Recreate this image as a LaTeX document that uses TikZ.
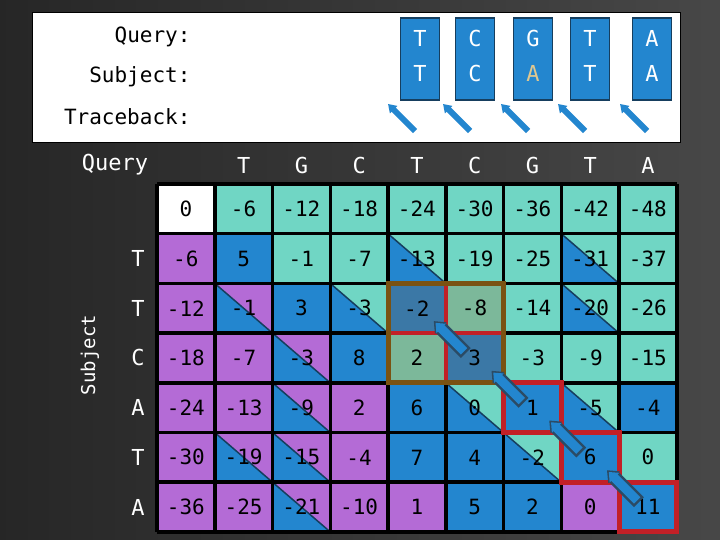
\documentclass[tikz,border=0pt]{standalone}
\usepackage{fontspec}
\setmainfont{DejaVu Sans Mono}
\usetikzlibrary{arrows.meta}
\definecolor{cT}{HTML}{70D6C4}
\definecolor{cP}{HTML}{B46BD6}
\definecolor{cB}{HTML}{2386CF}
\definecolor{cS}{HTML}{3B78A6}
\definecolor{cG}{HTML}{7CB89A}
\definecolor{cW}{HTML}{FFFFFF}
\definecolor{dkb}{HTML}{163E5E}
\definecolor{brn}{HTML}{7A5212}
\definecolor{rd}{HTML}{C22027}
\definecolor{gold}{HTML}{E0C890}
\def\cmpHT{HT}\def\cmpHP{HP}
\tikzset{
 lbl/.style={font=\fontsize{21}{21}\selectfont, text=black},
 hd/.style={font=\fontsize{22}{22}\selectfont, text=white},
 topbox/.style={fill=cB, draw=dkb, line width=1.5pt, minimum width=39pt, minimum height=82pt, inner sep=0pt},
 toplet/.style={font=\fontsize{22}{22}\selectfont, text=white},
 bluearrow/.style={line width=6pt, cB, -{Triangle[length=8pt,width=10pt]}},
 bigarrowout/.style={line width=14pt, draw=dkb!80!gray, -{Triangle[length=10pt,width=16pt]}},
 bigarrowin/.style={line width=9pt, draw=cB, -{Triangle[length=8pt,width=13pt]}},
}
\begin{document}
\begin{tikzpicture}[x=1pt,y=-1pt]
\useasboundingbox (0,0) rectangle (720,540);
\shade[left color=black!85, right color=black!72] (0,0) rectangle (720,540);
% top box
\node[draw=black, fill=white, line width=0.8pt, minimum width=648pt, minimum height=130pt, inner sep=0pt, anchor=north west] (tb) at (32,12) {};
\node[lbl, anchor=east] (q) at (194,37) {Query:};
\node[lbl, anchor=east] (s) at (194,77) {Subject:};
\node[lbl, anchor=east] (tr) at (194,117) {Traceback:};
\foreach \x/\a/\b/\col [count=\i] in {420/T/T/white,475/C/C/white,533/G/A/gold,590/T/T/white,652/A/A/white}{
  \node[topbox] (tbx\i) at (\x,59) {};
  \node[toplet] (ta\i) at (\x,38) {\a};
  \node[toplet, text=\col] (tbb\i) at (\x,73) {\b};
  \coordinate (ah\i) at (\x-32,104);
  \coordinate (at\i) at (\x-5,131);
  \draw[bluearrow] (at\i) -- (ah\i);
}
% headers
\node[hd] (qh) at (115,165) {Query};
\foreach \l [count=\i] in {T,G,C,T,C,G,T,A}{
  \node[hd] (qc\i) at ({157+57.75*\i+28.9},165) {\l};
}
\foreach \l [count=\i] in {T,T,C,A,T,A}{
  \node[hd] (sr\i) at (138,{184+49.7*\i+24.85}) {\l};
}
\node[hd, rotate=90, font=\fontsize{19}{19}\selectfont] (sub) at (90,355) {Subject};
% cells
\def\W{57.75}\def\H{49.7}
\foreach \row [count=\r from 0] in {
 {0/W,-6/T,-12/T,-18/T,-24/T,-30/T,-36/T,-42/T,-48/T},
 {-6/P,5/B,-1/T,-7/T,-13/HT,-19/T,-25/T,-31/HT,-37/T},
 {-12/P,-1/HP,3/B,-3/HT,-2/S,-8/G,-14/T,-20/HT,-26/T},
 {-18/P,-7/P,-3/HP,8/B,2/G,3/S,-3/T,-9/T,-15/T},
 {-24/P,-13/P,-9/HP,2/P,6/B,0/HT,1/B,-5/HT,-4/B},
 {-30/P,-19/HP,-15/HP,-4/P,7/B,4/B,-2/HT,6/B,0/T},
 {-36/P,-25/P,-21/HP,-10/P,1/P,5/B,2/B,0/P,11/B}}{
 \foreach \v/\k [count=\c from 0] in \row {
  \pgfmathsetmacro\xa{157+\W*\c}\pgfmathsetmacro\ya{184+\H*\r}
  \pgfmathsetmacro\xb{\xa+\W}\pgfmathsetmacro\yb{\ya+\H}
  \edef\kk{\k}
  \ifx\kk\cmpHT
    \fill[cT] (\xa,\ya) rectangle (\xb,\yb);
    \filldraw[fill=cB, draw=dkb, line width=1.5pt] (\xa,\ya) -- (\xb,\yb) -- (\xa,\yb) -- cycle;
  \else\ifx\kk\cmpHP
    \fill[cP] (\xa,\ya) rectangle (\xb,\yb);
    \filldraw[fill=cB, draw=dkb, line width=1.5pt] (\xa,\ya) -- (\xb,\yb) -- (\xa,\yb) -- cycle;
  \else
    \fill[c\k] (\xa,\ya) rectangle (\xb,\yb);
  \fi\fi
  \node[lbl] (c-\r-\c) at ({\xa+\W/2},{\ya+\H/2}) {\v};
 }
}
% grid lines
\foreach \c in {0,...,9}{ \draw[line width=3.5pt] ({157+\W*\c},184) -- ({157+\W*\c},{184+7*\H}); }
\foreach \r in {0,...,7}{ \draw[line width=3.5pt] (157,{184+\H*\r}) -- ({157+9*\W},{184+\H*\r}); }
% red cross and brown box
\draw[rd, line width=4pt] ({157+5*\W},{184+2*\H}) -- ({157+5*\W},{184+4*\H});
\draw[rd, line width=4pt] ({157+4*\W},{184+3*\H}) -- ({157+6*\W},{184+3*\H});
\draw[brn, line width=5pt] ({157+4*\W},{184+2*\H}) rectangle ({157+6*\W},{184+4*\H});
% red stair
\draw[rd, line width=5pt, line join=miter]
 ({157+6*\W},{184+4*\H}) -- ({157+7*\W},{184+4*\H}) -- ({157+7*\W},{184+5*\H}) -- ({157+8*\W},{184+5*\H})
 -- ({157+8*\W},{184+6*\H}) -- ({157+9*\W},{184+6*\H}) -- ({157+9*\W},{184+7*\H}) -- ({157+8*\W},{184+7*\H})
 -- ({157+8*\W},{184+6*\H}) -- ({157+7*\W},{184+6*\H}) -- ({157+7*\W},{184+5*\H}) -- ({157+6*\W},{184+5*\H}) -- cycle;
% traceback arrows
\foreach \c/\r [count=\i] in {5/3,6/4,7/5,8/6}{
  \coordinate (bt\i) at ({157+\W*\c+20},{184+\H*\r+20});
  \coordinate (bh\i) at ({157+\W*\c-12},{184+\H*\r-12});
  \draw[bigarrowout] (bt\i) -- (bh\i);
  \draw[bigarrowin, shorten >=2.5pt, shorten <=2.5pt] (bt\i) -- (bh\i);
}
\end{tikzpicture}
\end{document}
